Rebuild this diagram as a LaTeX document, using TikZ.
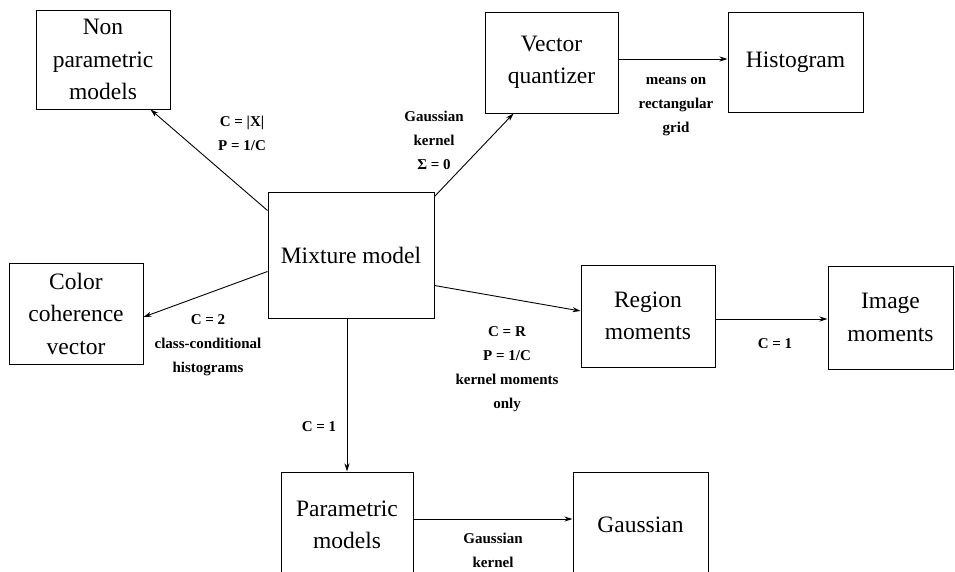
\documentclass[tikz,border=0pt]{standalone}
\usepackage{fontspec}
\setmainfont{Liberation Serif}
\usetikzlibrary{arrows.meta,positioning}
\tikzset
{
    modelbox/.style  = {rectangle, draw=black, line width=1pt, align=center, inner sep=2pt, minimum width=134pt, minimum height=101pt, font=\fontsize{23.5}{32.5}\selectfont},
    edgelabel/.style = {align=center, inner sep=0pt, font=\fontsize{15}{24}\selectfont\bfseries},
    link/.style      = {->, line width=0.9pt}
}

\begin{document}
\begin{tikzpicture}[x=1pt, y=-1pt, >={Stealth[length=8pt, width=5pt, inset=2.5pt]}]
\useasboundingbox (0,0) rectangle (955,571);

\node (mix)   [modelbox, minimum width=166pt, minimum height=126pt] at (351,255)   {Mixture model};
\node (NP)    [modelbox, minimum height=99pt]                       at (103,59.5)  {Non\\parametric\\models};
\node (VQ)    [modelbox, minimum width=133pt]                       at (551.5,62.5) {Vector\\quantizer};
\node (hist)  [modelbox, minimum width=135pt, minimum height=100pt] at (795.5,62)  {Histogram};
\node (CCV)   [modelbox]                                            at (76,313.5)  {Color\\coherence\\vector};
\node (reg)   [modelbox, minimum height=102pt]                      at (648,316)   {Region\\moments};
\node (img)   [modelbox, minimum width=125pt, minimum height=103pt] at (890.5,317.5) {Image\\moments};
% bottom row runs off the lower edge
\node (param) [modelbox, minimum width=132pt, minimum height=106pt] at (347,525) {Parametric\\models};
\node (gauss) [modelbox, minimum width=135pt, minimum height=106pt] at (640.5,525) {Gaussian};

\path
([yshift=-19pt]mix.north west)  edge[link] ([xshift=-20pt]NP.south east)
([yshift=-5pt]mix.north east)   edge[link] ([xshift=29pt]VQ.south west)
([yshift=-80pt]mix.north west)  edge[link] ([yshift=-3.5pt]CCV.east)
([yshift=-94pt]mix.north east)  edge[link] ([yshift=5pt]reg.west)
(param.north |- mix.south)      edge[link] (param.north)
([yshift=3.5pt]VQ.east)         edge[link] ([yshift=3pt]hist.west)
([yshift=-3pt]reg.east)         edge[link] ([yshift=-1.5pt]img.west)
([yshift=6pt]param.east)        edge[link] ([yshift=6pt]gauss.west);

%% edge labels
\node (lblNP)    [edgelabel] at (242,133) {C = |X|\\P = 1/C};
\node (lblVQ)    [edgelabel] at (434,140) {Gaussian\\kernel\\Σ = 0};
\node (lblhist)  [edgelabel] at (676,107) {means on\\rectangular\\grid};
\node (lblCCV)   [edgelabel] at (208,345) {C = 2\\class-conditional\\histograms};
\node (lblparam) [edgelabel] at (319,427) {C = 1};
\node (lblreg)   [edgelabel] at (507,369) {C = R\\P = 1/C\\kernel moments\\only};
\node (lblimg)   [edgelabel] at (775,344) {C = 1};
\node (lblgauss) [edgelabel] at (493,550) {Gaussian\\kernel};
\end{tikzpicture}
\end{document}
